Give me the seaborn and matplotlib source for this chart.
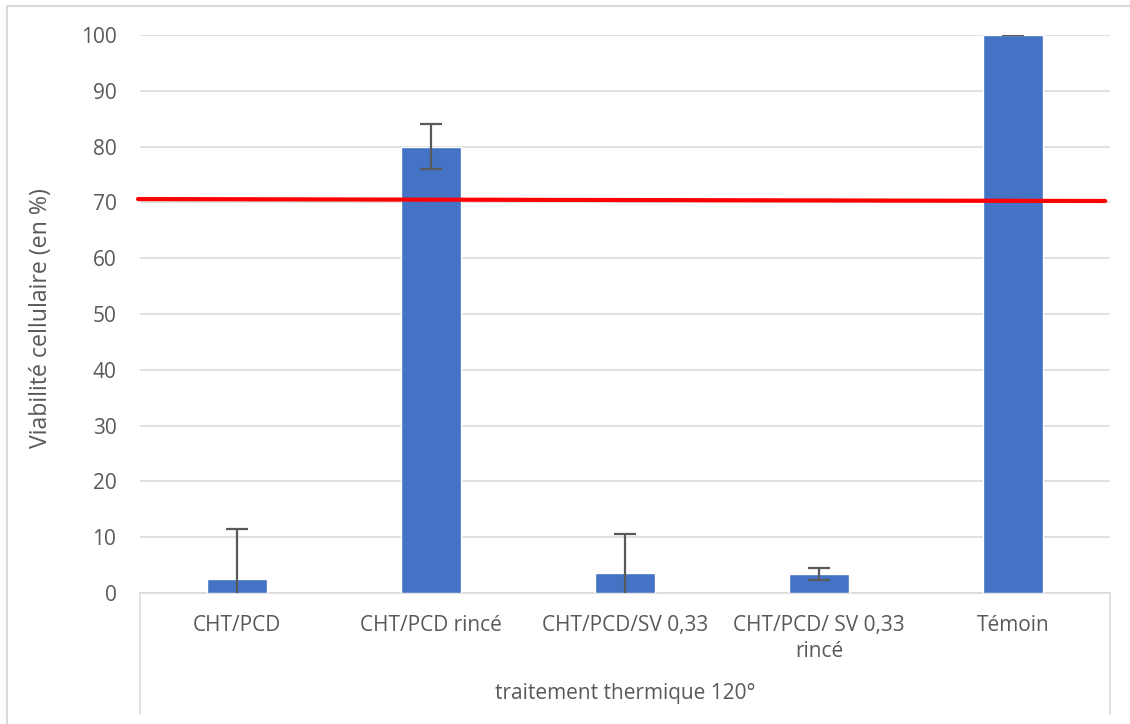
import matplotlib
matplotlib.use("Agg")
import matplotlib.pyplot as plt
from matplotlib.lines import Line2D
import seaborn as sns
import pandas as pd

categories = ["CHT/PCD", "CHT/PCD rincé", "CHT/PCD/SV 0,33", "CHT/PCD/ SV 0,33\nrincé", "Témoin"]
viability = [2.5, 80.0, 3.5, 3.4, 100.0]
errors = [9.0, 4.0, 7.0, 1.1, 0.0]
threshold = [70.6, 70.25]
group_label = "traitement thermique 120°"
y_label = "Viabilité cellulaire (en %)"
y_ticks = list(range(0, 101, 10))

sns.set_theme(style="white")
plt.rcParams['font.family'] = ['Open Sans', 'DejaVu Sans']

TXT = "#595959"
GRID = "#d9d9d9"
BAR = "#4472C4"

W, H = 1130, 724
fig = plt.figure(figsize=(W / 100, H / 100), dpi=100)
ax = fig.add_axes([140 / W, 1 - 593 / H, 970 / W, 558 / H])

df = pd.DataFrame({"cat": categories, "val": viability})
sns.barplot(data=df, x="cat", y="val", color=BAR, width=0.31, ax=ax,
            saturation=1, errorbar=None, zorder=3)
ax.errorbar(range(len(categories)), viability, yerr=errors, fmt="none",
            ecolor=TXT, elinewidth=1.6, capsize=8, capthick=1.6, zorder=4)

ax.set_ylim(0, 100)
ax.set_xlim(-0.5, len(categories) - 0.5)
ax.set_yticks(y_ticks)
ax.yaxis.grid(True, color=GRID, linewidth=1.1, zorder=0)
ax.set_axisbelow(True)
for s in ["left", "right", "top"]:
    ax.spines[s].set_visible(False)
ax.spines["bottom"].set_color(GRID)
ax.spines["bottom"].set_linewidth(1.1)
ax.tick_params(axis="y", length=0, pad=17, labelsize=15, labelcolor=TXT)
ax.tick_params(axis="x", length=0, pad=16, labelsize=15, labelcolor=TXT)
for t in ax.get_xticklabels():
    t.set_linespacing(1.3)
ax.set_xlabel("")
ax.set_ylabel(y_label, fontsize=16.7, color=TXT)
ax.yaxis.set_label_coords(-0.09, 0.493)

# threshold line
trans = ax.get_yaxis_transform()
ax.plot([-0.002, 0.995], threshold, color="#FF0000", linewidth=3,
        transform=trans, zorder=5, clip_on=False)

# category group box
depth = (714 - 593) / 558
for xx in (0, 1):
    ax.add_line(Line2D([xx, xx], [0, -depth], transform=ax.transAxes,
                       color=GRID, linewidth=1.1, clip_on=False))
ax.text(0.5, -(693 - 593) / 558, group_label, transform=ax.transAxes,
        ha="center", va="center", fontsize=15, color=TXT)

# chart frame
fig.add_artist(Line2D([7 / W, 7 / W], [0, 1 - 6 / H], color=GRID, linewidth=1.5))
fig.add_artist(Line2D([7 / W, 1], [1 - 6 / H, 1 - 6 / H], color=GRID, linewidth=1.5))

fig.savefig("out.png", dpi=100, facecolor="white")
